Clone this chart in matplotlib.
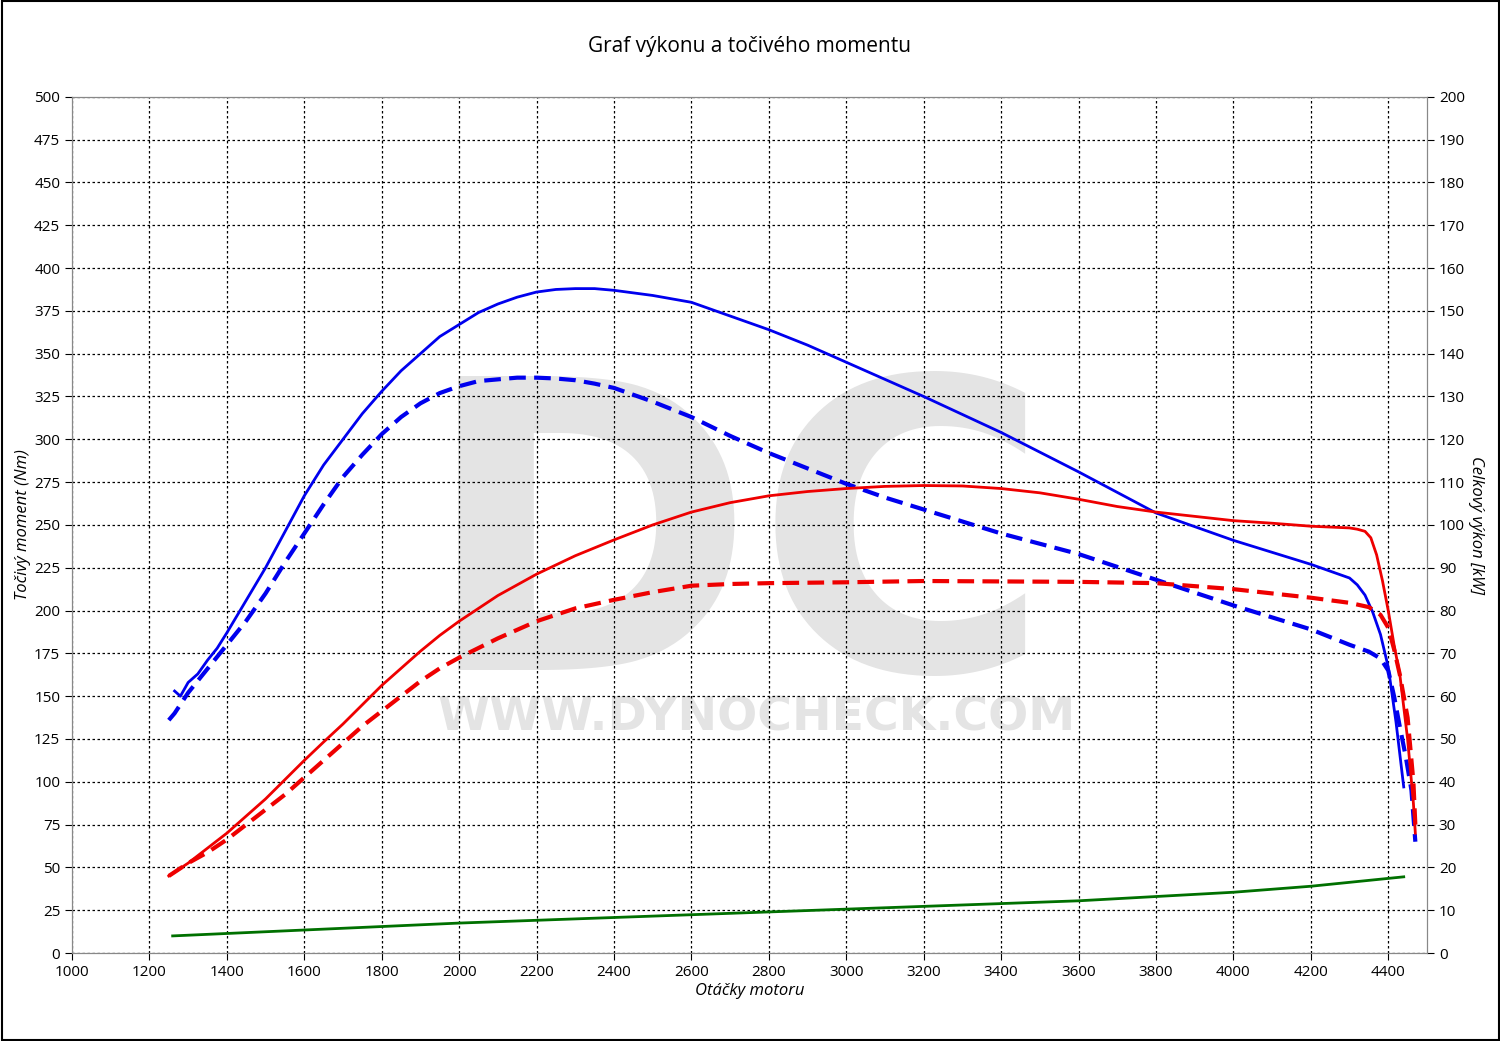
import matplotlib
matplotlib.use("Agg")
import matplotlib.pyplot as plt

plt.rcParams["font.family"] = "Open Sans"

rpm_ts = [1265,1280,1300,1325,1350,1375,1400,1450,1500,1550,1600,1650,1700,1750,1800,1850,1900,1950,2000,2050,2100,2150,2200,2250,2300,2350,2400,2500,2600,2700,2800,2900,3000,3200,3400,3600,3800,4000,4200,4250,4300,4320,4340,4360,4380,4400,4420,4440]
torque_tuned = [153,150,158,163,171,178,187,206,225,246,267,285,300,315,328,340,350,360,367,374,379,383,386,387.5,388,388,387,384,380,372,364,355,345,325,304,281,257,241,227,223,219,215,209,199,186,167,135,97]
rpm_ts2 = [1250,1265,1300,1350,1400,1450,1500,1550,1600,1650,1700,1750,1800,1850,1900,1950,2000,2050,2100,2150,2200,2250,2300,2350,2400,2500,2600,2700,2800,2900,3000,3100,3200,3400,3600,3800,4000,4200,4300,4350,4380,4400,4415,4430,4445,4460,4470]
torque_stock = [136,140,152,166,180,194,210,228,245,262,278,291,303,313,321,327,331,334,335,336,336,335.5,334.5,332.5,330,322,313,302,292,283,274,266,259,245,233,218,203,189,180,176,172,165,150,132,115,95,65]
rpm_p = [1250,1300,1350,1400,1450,1500,1550,1600,1650,1700,1750,1800,1850,1900,1950,2000,2100,2200,2300,2400,2500,2600,2700,2800,2900,3000,3100,3200,3300,3400,3500,3600,3700,3800,3900,4000,4100,4200,4250,4300,4320,4340,4355,4370,4385,4400,4415,4430,4450,4465,4470]
power_tuned = [18,21,24.5,28,32,36,40.5,45,49.3,53.5,58,62.5,66.5,70.5,74.2,77.5,83.5,88.5,92.8,96.5,100,103,105.2,106.8,107.8,108.5,109,109.2,109.1,108.5,107.5,106,104.3,103,102,101,100.4,99.7,99.5,99.3,99,98.5,97,93,87,80,72,65,50,35,28]
rpm_p2 = [1250,1300,1350,1400,1450,1500,1550,1600,1650,1700,1750,1800,1850,1900,1950,2000,2100,2200,2300,2400,2500,2600,2700,2800,3000,3200,3400,3600,3800,4000,4200,4300,4350,4380,4400,4415,4430,4450,4465,4470]
power_stock = [18,21,23.5,26.5,30,33.5,37,41,45,49,53,56.5,60,63.5,66.5,69,73.5,77.5,80.5,82.5,84.3,85.8,86.2,86.4,86.6,86.9,86.8,86.7,86.4,85,83,81.8,80.8,79,76,71,65,55,40,30]
rpm_loss = [1260,2000,2800,3600,4000,4200,4440]
loss = [10,17.5,24,30.5,35.5,39,44.5]

fig = plt.figure(figsize=(15, 10.41), dpi=100)
fig.patches.append(plt.Rectangle((0.001,0.001),0.998,0.998,transform=fig.transFigure,fill=False,ec="black",lw=1.5))
ax = fig.add_axes([0.048, 0.0845, 0.9033, 0.8225])
ax2 = ax.twinx()
ax.set_xlim(1000, 4500); ax.set_ylim(0, 500); ax2.set_ylim(0, 200)
ax.set_xticks(range(1000, 4401, 200)); ax.set_yticks(range(0, 501, 25)); ax2.set_yticks(range(0, 201, 10))
ax.grid(True, color="black", ls=(0,(2,2)), lw=0.9)
for a in (ax, ax2):
    a.tick_params(labelsize=11, length=5)
    for s in a.spines.values(): s.set_color("#888")

ax.text(0.49, 0.33, "DC", transform=ax.transAxes, ha="center", va="baseline", fontsize=290, fontweight="bold", color="#e4e4e4", zorder=0, family="DejaVu Sans")
ax.text(0.505, 0.275, "WWW.DYNOCHECK.COM", transform=ax.transAxes, ha="center", va="center", fontsize=34, fontweight="bold", color="#e4e4e4", zorder=0, family="DejaVu Sans")

ax.plot(rpm_ts, torque_tuned, color="#0000ee", lw=2)
ax.plot(rpm_ts2, torque_stock, color="#0000ee", lw=3, ls=(0,(4,2)))
ax.plot(rpm_loss, loss, color="#007000", lw=2)
ax2.plot(rpm_p, power_tuned, color="#ee0000", lw=2)
ax2.plot(rpm_p2, power_stock, color="#ee0000", lw=3, ls=(0,(4,2)))

ax.set_xlabel("Otáčky motoru", fontsize=12, style="italic", labelpad=2)
ax.set_ylabel("Točivý moment (Nm)", fontsize=12, style="italic", labelpad=2)
ax2.set_ylabel("Celkový výkon [kW]", fontsize=12, style="italic", rotation=270, labelpad=14)
fig.suptitle("Graf výkonu a točivého momentu", y=0.965, fontsize=15)
fig.savefig("out.png")
